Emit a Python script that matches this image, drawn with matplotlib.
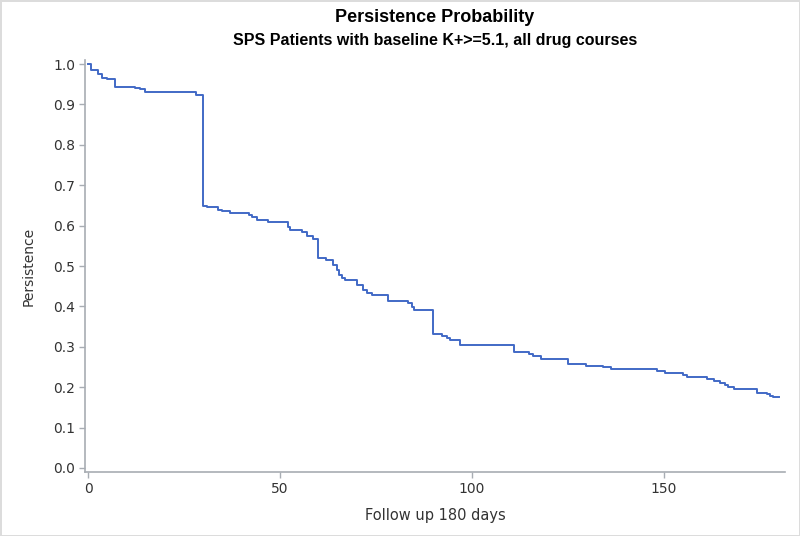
import matplotlib
matplotlib.use('Agg')
import matplotlib.pyplot as plt

# Kaplan-Meier style persistence estimates
days = [0, 0.8, 2.7, 3.6, 4.9, 6.9, 12.1, 13.5, 14.8, 28, 30, 30.9, 33.9, 34.8,
        37, 41.8, 42.8, 43.9, 46.8, 52, 52.6, 55.8, 56.9, 58.7, 59.8, 60, 61.9,
        63.9, 64.8, 65.4, 66.0, 66.9, 70, 71.7, 72.6, 73.9, 78.2, 83.4, 84.3,
        84.9, 89.8, 92.1, 93.4, 94.3, 96.9, 110.9, 114.9, 116, 117.9, 125.1,
        129.8, 134, 136.1, 148.1, 150.3, 155, 156.1, 161.1, 163, 164.6, 165.9,
        166.7, 168.2, 174.1, 176.7, 177.6, 178.5, 180]
persistence = [1.0, 0.985, 0.975, 0.966, 0.963, 0.944, 0.940, 0.937, 0.931, 0.923,
               0.648, 0.645, 0.639, 0.636, 0.632, 0.626, 0.622, 0.614, 0.609, 0.597,
               0.589, 0.584, 0.574, 0.568, 0.563, 0.519, 0.515, 0.502, 0.490, 0.478,
               0.470, 0.465, 0.453, 0.441, 0.434, 0.428, 0.414, 0.409, 0.399, 0.391,
               0.332, 0.327, 0.321, 0.317, 0.304, 0.288, 0.282, 0.276, 0.269, 0.258,
               0.253, 0.249, 0.245, 0.241, 0.234, 0.229, 0.225, 0.220, 0.215, 0.211,
               0.205, 0.200, 0.195, 0.186, 0.182, 0.178, 0.175, 0.175]

x_ticks = [0, 50, 100, 150]
y_ticks = [0.0, 0.1, 0.2, 0.3, 0.4, 0.5, 0.6, 0.7, 0.8, 0.9, 1.0]

axis_grey = '#a8adb3'
text_grey = '#333333'

fig = plt.figure(figsize=(8, 5.36), dpi=100, edgecolor='#dcdcdc', linewidth=2)
ax = fig.add_axes([85 / 800, 64 / 536, 700 / 800, 412 / 536])

ax.step(days, persistence, where='post', color='#4169c6', linewidth=1.4)

ax.set_xlim(-0.8, 181.5)
ax.set_ylim(-0.01, 1.01)
ax.set_xticks(x_ticks)
ax.set_yticks(y_ticks)
ax.set_yticklabels([f'{v:.1f}' for v in y_ticks])

for side in ['top', 'right']:
    ax.spines[side].set_visible(False)
for side in ['left', 'bottom']:
    ax.spines[side].set_color(axis_grey)
    ax.spines[side].set_linewidth(1.2)
ax.tick_params(axis='both', direction='out', length=4, width=1, color=axis_grey,
               labelsize=10, labelcolor=text_grey, pad=3)

ax.set_xlabel('Follow up 180 days', fontsize=10.5, color=text_grey, labelpad=9)
ax.set_ylabel('Persistence', fontsize=10, color=text_grey, labelpad=13)

fig.text(435 / 800, 1 - 18 / 536, 'Persistence Probability', ha='center', va='center',
         fontsize=13, fontweight='bold', family='Liberation Sans')
fig.text(435 / 800, 1 - 40 / 536, 'SPS Patients with baseline K+>=5.1, all drug courses',
         ha='center', va='center', fontsize=11.5, fontweight='bold', family='Liberation Sans')

fig.savefig('out.png', dpi=100)
